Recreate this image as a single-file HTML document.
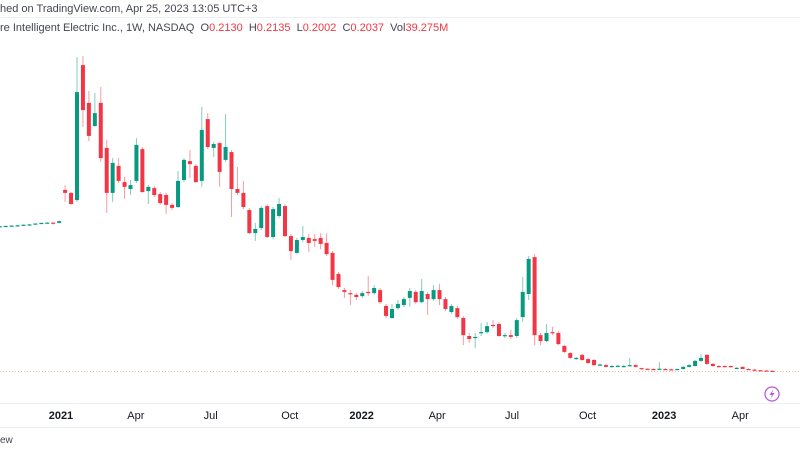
<!DOCTYPE html>
<html><head><meta charset="utf-8"><style>
html,body{margin:0;padding:0;background:#fff;}
body{width:800px;height:450px;overflow:hidden;position:relative;font-family:"Liberation Sans",sans-serif;}
.t{position:absolute;left:0;font-size:11px;color:#131722;white-space:nowrap;}
.r{color:#f23645;}
</style></head><body>
<div class="t" style="top:3px;color:#434651">hed on TradingView.com, Apr 25, 2023 13:05 UTC+3</div>
<div style="position:absolute;left:0;top:17px;width:800px;height:1px;background:#eef0f3"></div>
<div class="t" style="top:22px;color:#434651">re Intelligent Electric Inc., 1W, NASDAQ&nbsp; O<span class="r">0.2130</span>&nbsp; H<span class="r">0.2135</span>&nbsp; L<span class="r">0.2002</span>&nbsp; C<span class="r">0.2037</span>&nbsp; Vol<span class="r">39.275M</span></div>
<svg id="chart" width="800" height="450" style="position:absolute;left:0;top:0">
<line x1="0" x2="800" y1="371.5" y2="371.5" stroke="#f7a35c" stroke-width="1" stroke-dasharray="1,2" opacity="0.7"/>
<line x1="0" x2="800" y1="403.5" y2="403.5" stroke="#eef0f3"/>
<line x1="0" x2="800" y1="427.5" y2="427.5" stroke="#eef0f3"/>
<g id="candles"></g>
<g id="ticks"></g>
<g>
<circle cx="772" cy="394" r="7" fill="#fff" stroke="#b45ed6" stroke-width="1.3"/>
<path d="M773.5 389 L769.5 395 L772 395 L770.5 399 L774.5 393 L772 393 Z" fill="#b45ed6"/>
</g>
</svg>
<div class="t" style="top:435px;color:#434651;font-size:10px">ew</div>
<script>
const opens=[5.15,5.16,5.17,5.18,5.19,5.21,5.22,5.25,5.27,5.28,5.27,6.37,6.27,6.03,10.53,9.27,8.50,9.27,7.77,6.27,7.17,6.63,6.40,6.67,7.73,6.33,6.43,6.23,6.20,5.87,5.80,6.70,7.33,7.17,6.67,8.73,7.77,7.93,7.37,7.63,6.40,6.27,5.70,4.93,5.10,5.83,4.80,5.50,5.83,4.83,4.27,4.70,4.77,4.73,4.77,4.60,4.27,3.57,3.03,2.93,2.87,2.83,2.97,2.93,3.03,2.50,2.10,2.43,2.53,2.77,2.97,2.63,2.90,2.73,3.03,2.73,2.30,2.43,2.10,1.50,1.43,1.60,1.63,1.87,1.90,1.50,1.53,1.50,2.13,2.90,4.13,1.53,1.33,1.63,1.60,1.17,0.93,0.73,0.87,0.73,0.70,0.52,0.53,0.48,0.48,0.47,0.50,0.53,0.43,0.41,0.40,0.38,0.40,0.39,0.37,0.40,0.47,0.50,0.67,0.87,0.57,0.50,0.50,0.50,0.42,0.47,0.40,0.38,0.36,0.35,0.34];
const highs=[5.17,5.18,5.19,5.20,5.22,5.23,5.26,5.28,5.29,5.29,5.35,6.53,6.30,10.80,10.83,9.67,9.60,9.80,8.03,7.43,7.43,6.80,6.70,8.10,7.80,6.53,6.50,6.30,6.27,5.93,7.00,7.43,7.70,7.23,9.13,8.93,7.97,7.97,8.90,7.70,7.13,6.67,5.77,5.27,5.83,5.90,5.80,6.10,5.90,4.90,4.77,5.17,4.90,4.90,4.93,4.93,4.33,3.63,3.10,3.03,2.93,3.00,3.50,3.20,3.10,2.57,2.57,2.70,2.80,3.10,3.03,3.40,2.97,3.20,3.23,2.80,2.57,2.50,2.17,1.60,1.60,1.93,1.97,2.03,1.97,1.60,1.70,2.10,3.47,4.17,4.23,1.60,1.90,1.80,1.67,1.20,0.97,0.80,0.90,0.77,0.73,0.58,0.57,0.53,0.53,0.55,0.77,0.56,0.45,0.42,0.42,0.63,0.43,0.41,0.42,0.50,0.57,0.70,0.90,0.90,0.60,0.53,0.52,0.52,0.46,0.49,0.42,0.40,0.37,0.36,0.35];
const lows=[5.13,5.14,5.15,5.16,5.18,5.19,5.21,5.23,5.25,5.22,5.26,5.97,5.87,5.97,8.47,8.00,8.47,7.30,5.60,5.97,6.60,6.07,6.20,6.60,6.27,5.90,6.13,5.87,5.57,5.70,5.77,6.63,6.77,6.60,6.47,7.73,7.47,6.47,7.30,5.47,6.20,5.73,4.90,4.67,5.03,4.77,4.73,5.43,4.80,4.03,4.23,4.63,4.30,4.47,4.40,4.17,3.20,3.07,2.77,2.53,2.70,2.77,2.83,2.87,2.57,2.10,2.07,2.37,2.47,2.47,2.57,2.60,2.20,2.67,2.53,2.33,2.23,2.07,1.20,1.27,1.10,1.50,1.57,1.77,1.47,1.43,1.40,1.43,1.97,2.70,1.20,1.20,1.30,1.53,1.20,0.93,0.73,0.70,0.67,0.57,0.50,0.50,0.45,0.45,0.46,0.45,0.48,0.45,0.38,0.37,0.37,0.37,0.37,0.36,0.36,0.38,0.45,0.48,0.63,0.53,0.47,0.45,0.46,0.44,0.40,0.40,0.37,0.34,0.33,0.32,0.31];
const closes=[5.16,5.17,5.18,5.19,5.21,5.22,5.25,5.27,5.28,5.25,5.33,6.27,5.90,9.63,9.03,8.17,8.93,7.43,6.27,7.27,6.67,6.47,6.53,7.87,6.30,6.47,6.20,5.93,5.87,5.77,6.67,7.37,7.23,6.63,8.37,7.80,7.90,6.97,7.80,6.40,6.27,5.80,4.93,5.07,5.77,4.80,5.73,5.90,4.83,4.33,4.70,4.80,4.60,4.67,4.57,4.23,3.37,3.13,2.97,2.90,2.80,2.93,2.93,3.10,2.63,2.17,2.40,2.57,2.73,3.00,2.63,3.00,2.73,3.03,2.73,2.40,2.50,2.13,1.53,1.40,1.47,1.63,1.83,1.83,1.50,1.53,1.47,2.03,2.97,4.07,1.53,1.33,1.60,1.60,1.23,0.97,0.77,0.77,0.70,0.60,0.53,0.55,0.47,0.50,0.51,0.50,0.53,0.47,0.40,0.39,0.38,0.41,0.38,0.37,0.40,0.47,0.53,0.67,0.77,0.57,0.50,0.47,0.48,0.47,0.44,0.40,0.38,0.35,0.34,0.33,0.32];
const tickLabels=["2021","Apr","Jul","Oct","2022","Apr","Jul","Oct","2023","Apr"];
const tickWeeks=[10.3,22.9,35.5,48.8,60.9,73.6,86.2,98.9,111.8,124.6];
const boldTicks=["2021","2022","2023"];

const NS="http://www.w3.org/2000/svg";
function xScale(i){return -0.26+i*5.943;}
function yScale(p){return 381-p*30;}
const g=document.getElementById('candles');
for(let i=0;i<opens.length;i++){
  const o=opens[i],h=highs[i],l=lows[i],c=closes[i];
  const up=c>=o;const col=up?'#089981':'#f23645';
  const x=xScale(i);
  const w=document.createElementNS(NS,'line');
  
  
  w.setAttribute('x1',x);w.setAttribute('x2',x);
  w.setAttribute('y1',yScale(h));w.setAttribute('y2',yScale(l));
  w.setAttribute('stroke',col);w.setAttribute('stroke-opacity','0.5');w.setAttribute('stroke-width','1');
  g.appendChild(w);
  const b=document.createElementNS(NS,'rect');
  
  
  const top=yScale(Math.max(o,c)),bot=yScale(Math.min(o,c));
  b.setAttribute('x',x-2);b.setAttribute('width',4);
  b.setAttribute('y',top);b.setAttribute('height',Math.max(1.2,bot-top));
  b.setAttribute('fill',col);
  g.appendChild(b);
}
const tg=document.getElementById('ticks');
tickLabels.forEach((lab,k)=>{
  const t=document.createElementNS(NS,'text');
  
  
  t.setAttribute('x',xScale(tickWeeks[k]));t.setAttribute('y',419);
  t.setAttribute('text-anchor','middle');t.setAttribute('font-size','11');
  t.setAttribute('font-family','Liberation Sans, sans-serif');
  t.setAttribute('fill','#131722');
  if(boldTicks.includes(lab))t.setAttribute('font-weight','bold');
  t.textContent=lab;tg.appendChild(t);
});
</script>
</body></html>
